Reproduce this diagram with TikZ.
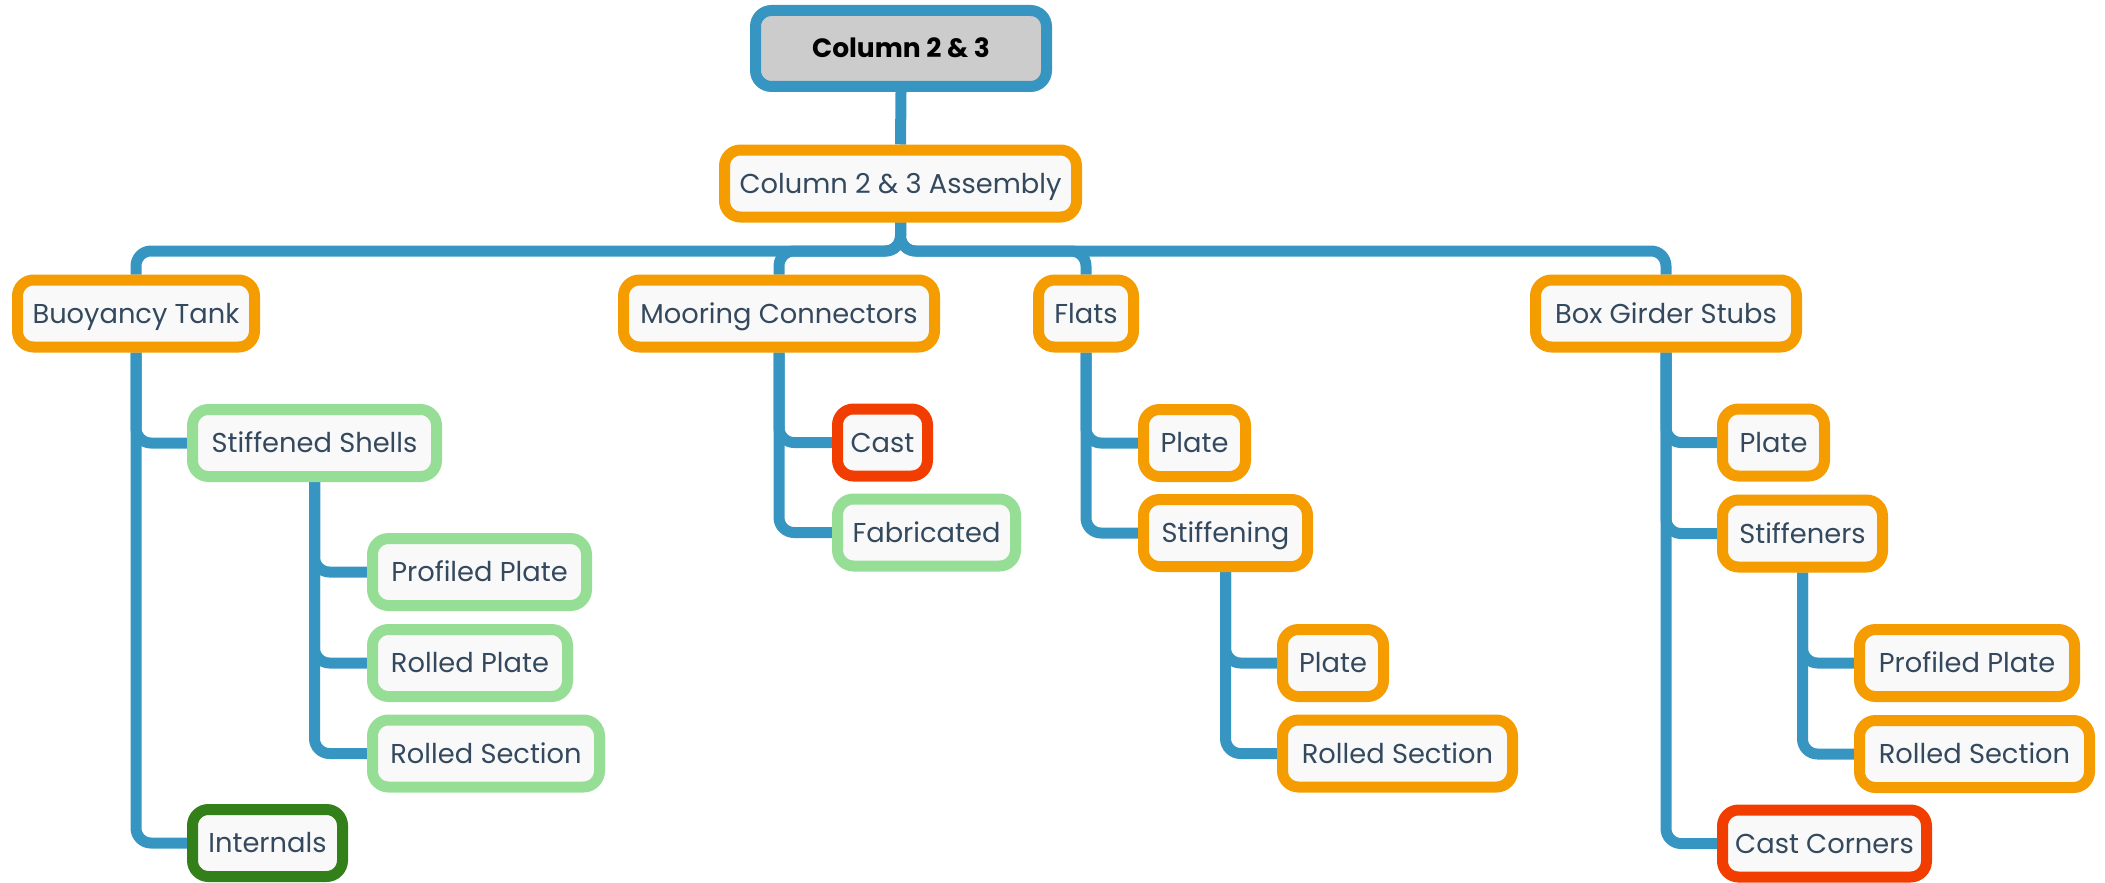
\documentclass[tikz,border=0pt]{standalone}
\usepackage{fontspec}
\setmainfont{Poppins}
\usetikzlibrary{backgrounds}
\definecolor{blueline}{HTML}{3796C1}
\definecolor{orng}{HTML}{F59C00}
\definecolor{lgreen}{HTML}{96DE96}
\definecolor{dgreen}{HTML}{33801A}
\definecolor{redb}{HTML}{F23D00}
\definecolor{nfill}{HTML}{F9F9F9}
\definecolor{rfill}{HTML}{CCCCCC}
\definecolor{txt}{HTML}{34495E}
\tikzset{
  box/.style={draw, line width=11pt, rounded corners=16pt, fill=nfill, minimum height=67pt,
    inner sep=0pt, text=txt, font=\fontsize{27.3}{32}\selectfont, text height=19pt, text depth=0pt},
  ob/.style={box, draw=orng},
  lg/.style={box, draw=lgreen},
  dg/.style={box, draw=dgreen},
  rb/.style={box, draw=redb},
  conn/.style={draw=blueline, line width=11pt, rounded corners=15pt},
}
\begin{document}
\begin{tikzpicture}[x=1pt,y=-1pt]
\useasboundingbox (0,0) rectangle (2105,883);
% root
\node[box, draw=blueline, fill=rfill, text=black, minimum width=291pt, minimum height=76pt,
  font=\fontsize{26.5}{32}\selectfont\bfseries] (root) at (901,48.5) {Column 2 \& 3};
\node[ob, minimum width=352pt] (asm) at (900.5,183.5) {Column 2 \& 3 Assembly};
% level 1
\node[ob, minimum width=237pt] (buoy) at (136,313.5) {Buoyancy Tank};
\node[ob, minimum width=311pt] (moor) at (779,313.5) {Mooring Connectors};
\node[ob, minimum width=95pt] (flats) at (1086,313.5) {Flats};
\node[ob, minimum width=261pt] (box) at (1666,313.5) {Box Girder Stubs};
% buoyancy children
\node[lg, minimum width=244pt] (sshell) at (314.5,443) {Stiffened Shells};
\node[lg, minimum width=214pt] (pp1) at (479.5,572) {Profiled Plate};
\node[lg, minimum width=195pt] (rp1) at (470,663) {Rolled Plate};
\node[lg, minimum width=227pt] (rs1) at (486,753.5) {Rolled Section};
\node[dg, minimum width=150pt] (intl) at (267.5,843) {Internals};
% mooring children
\node[rb, minimum width=90pt] (cast) at (882.5,442.5) {Cast};
\node[lg, minimum width=178pt] (fab) at (926.5,532.5) {Fabricated};
% flats children
\node[ob, minimum width=102pt] (fplate) at (1194.5,443) {Plate};
\node[ob, minimum width=164pt] (stfg) at (1225.5,533) {Stiffening};
\node[ob, minimum width=101pt] (fplate2) at (1333,663) {Plate};
\node[ob, minimum width=230pt] (frs) at (1397.5,753.5) {Rolled Section};
% box girder children
\node[ob, minimum width=102pt] (bplate) at (1773.5,442.5) {Plate};
\node[ob, minimum width=160pt] (stfr) at (1802.5,533.5) {Stiffeners};
\node[ob, minimum width=215pt] (bpp) at (1967,663) {Profiled Plate};
\node[ob, minimum width=230pt] (brs) at (1974.5,754) {Rolled Section};
\node[rb, minimum width=204pt] (castc) at (1824.5,843.5) {Cast Corners};
% connectors
\coordinate (bar) at (900.5,251);
\begin{pgfonlayer}{background}
\draw[conn] (root.south) -- (asm.north);
\foreach \c in {buoy,moor,flats,box}
  \draw[conn] (asm.south) -- (bar) -| (\c.north);
\foreach \p/\c in {buoy/sshell,buoy/intl,sshell/pp1,sshell/rp1,sshell/rs1,
    moor/cast,moor/fab,flats/fplate,flats/stfg,stfg/fplate2,stfg/frs,
    box/bplate,box/stfr,box/castc,stfr/bpp,stfr/brs}
  \draw[conn] (\p.south) |- (\c.west);
\end{pgfonlayer}
\end{tikzpicture}
\end{document}
